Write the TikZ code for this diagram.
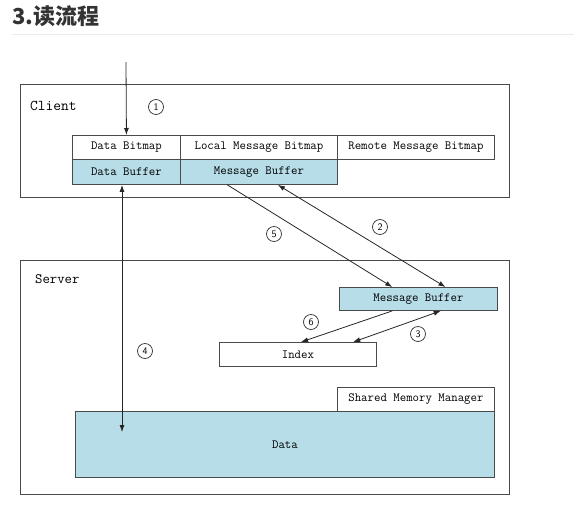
\documentclass[tikz,border=0pt]{standalone}
\usepackage{fontspec}
\newfontfamily\cjk{Noto Sans CJK SC}
\usetikzlibrary{arrows.meta,calc}
\definecolor{lblue}{HTML}{B7DDE8}
\definecolor{edge}{HTML}{4A4A4A}
\definecolor{titlec}{HTML}{333333}
\tikzset{
  box/.style={draw=edge,line width=0.9pt,anchor=north west,inner sep=0pt,font=\ttfamily\fontsize{12.5}{12.5}\selectfont},
  filled/.style={box,fill=lblue},
  frame/.style={draw=edge,line width=1.1pt,anchor=north west,inner sep=0pt},
  num/.style={circle,draw=black!80,line width=0.7pt,minimum size=15pt,inner sep=0pt,font=\sffamily\fontsize{10}{10}\selectfont},
  conn/.style={draw=black!85,line width=0.8pt,-{Latex[length=7pt,width=5pt]}},
  conn2/.style={draw=black!85,line width=0.8pt,{Latex[length=7pt,width=5pt]}-{Latex[length=7pt,width=5pt]}},
}
\begin{document}
\begin{tikzpicture}[x=1pt,y=-1pt]
\useasboundingbox (0,0) rectangle (574,507);
% title
\node[anchor=west,inner sep=0pt,text=titlec,font=\cjk\bfseries\fontsize{22}{22}\selectfont] (title) at (12,16) {3.读流程};
\draw[draw=black!8,line width=1.5pt] (12,34.5) -- (574,34.5);
% frames
\node[frame,minimum width=489pt,minimum height=113pt] (client) at (20,84) {};
\node[frame,minimum width=489pt,minimum height=234pt] (server) at (20,260) {};
\node[anchor=west,inner sep=0pt,font=\ttfamily\fontsize{15}{15}\selectfont] (clientlbl) at (30,106) {Client};
\node[anchor=west,inner sep=0pt,font=\ttfamily\fontsize{14.3}{14.3}\selectfont] (serverlbl) at (35,279) {Server};
% client boxes
\node[box,minimum width=108pt,minimum height=24pt] (dbm) at (72,135) {Data Bitmap};
\node[box,minimum width=157pt,minimum height=24pt] (lmb) at (180,135) {Local Message Bitmap};
\node[box,minimum width=157pt,minimum height=24pt] (rmb) at (337,135) {Remote Message Bitmap};
\node[filled,minimum width=108pt,minimum height=25pt] (dbuf) at (72,159) {Data Buffer};
\node[filled,minimum width=157pt,minimum height=25pt] (cmb) at (180,159) {Message Buffer};
% server boxes
\node[filled,minimum width=158pt,minimum height=23pt] (smb) at (339,287) {Message Buffer};
\node[box,minimum width=157pt,minimum height=24pt] (idx) at (219,342) {Index};
\node[box,minimum width=157pt,minimum height=24pt] (smm) at (337,387) {Shared Memory Manager};
\node[filled,minimum width=419pt,minimum height=66pt] (data) at (75,411) {Data};
% numbers
\node[num] (n1) at (156,107) {1};
\node[num] (n2) at (380,227) {2};
\node[num] (n3) at (418,334) {3};
\node[num] (n4) at (145,351) {4};
\node[num] (n5) at (274,234) {5};
\node[num] (n6) at (311,322) {6};
% connectors
\coordinate (in1) at (126,62);
\coordinate (d4) at (122,432);
\draw[conn] (in1) -- (dbm.north);
\draw[conn2] (dbuf.south -| d4) -- (d4);
\draw[conn] ($(cmb.south west)!0.30!(cmb.south east)$) -- ($(smb.north west)!0.335!(smb.north east)$);
\draw[conn2] ($(smb.north west)!0.67!(smb.north east)$) -- ($(cmb.south west)!0.62!(cmb.south east)$);
\draw[conn] ($(smb.south west)!0.335!(smb.south east)$) -- ($(idx.north west)!0.52!(idx.north east)$);
\draw[conn2] ($(idx.north west)!0.85!(idx.north east)$) -- ($(smb.south west)!0.64!(smb.south east)$);
\end{tikzpicture}
\end{document}
